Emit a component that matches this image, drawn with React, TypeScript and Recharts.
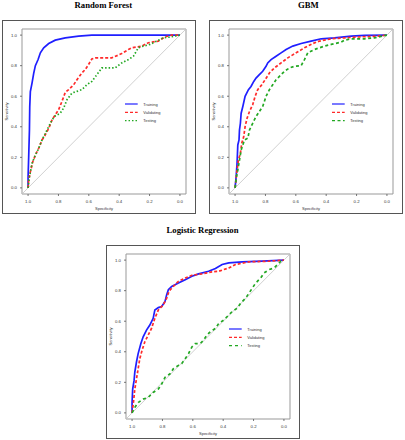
import React from 'react';
import { LineChart, Line, XAxis, YAxis, ReferenceLine, ReferenceArea, Legend } from 'recharts';

// each point is [specificity, sensitivity]
type Pt = [number, number];

const seriesNames = ['Training', 'Validating', 'Testing'];
const seriesColors = ['#1f1fff', '#ff2a2a', '#22a822'];
const axisTicks = [0, 0.2, 0.4, 0.6, 0.8, 1.0];

const rfTraining: Pt[] = [
  [1, 0], [1, 0.07], [0.996, 0.2], [0.991, 0.38], [0.989, 0.53], [0.985, 0.63], [0.974, 0.686],
  [0.963, 0.75], [0.952, 0.8], [0.934, 0.84], [0.919, 0.884], [0.897, 0.917], [0.864, 0.945],
  [0.821, 0.967], [0.755, 0.982], [0.667, 0.993], [0.58, 1], [0, 1],
];
const rfValidating: Pt[] = [
  [1, 0], [0.996, 0.05], [0.985, 0.105], [0.969, 0.171], [0.952, 0.215], [0.93, 0.259], [0.908, 0.314],
  [0.891, 0.34], [0.864, 0.39], [0.842, 0.445], [0.821, 0.478], [0.799, 0.511], [0.777, 0.566],
  [0.755, 0.625], [0.733, 0.643], [0.7, 0.675], [0.678, 0.708], [0.646, 0.752], [0.624, 0.774],
  [0.602, 0.807], [0.58, 0.844], [0.558, 0.851], [0.449, 0.851], [0.383, 0.879], [0.339, 0.906],
  [0.317, 0.917], [0.252, 0.928], [0.208, 0.95], [0.142, 0.961], [0.098, 0.989], [0.055, 1], [0, 1],
];
const rfTesting: Pt[] = [
  [1, 0], [0.991, 0.072], [0.974, 0.16], [0.952, 0.215], [0.93, 0.259], [0.908, 0.314], [0.875, 0.379],
  [0.842, 0.445], [0.821, 0.471], [0.788, 0.489], [0.766, 0.522], [0.744, 0.577], [0.711, 0.621],
  [0.678, 0.632], [0.646, 0.643], [0.613, 0.675], [0.58, 0.697], [0.547, 0.741], [0.514, 0.785],
  [0.427, 0.785], [0.383, 0.818], [0.339, 0.84], [0.306, 0.862], [0.274, 0.917], [0.241, 0.928],
  [0.197, 0.939], [0.153, 0.961], [0.109, 0.982], [0.055, 0.989], [0, 1],
];

const gbmTraining: Pt[] = [
  [1, 0], [0.993, 0.072], [0.987, 0.16], [0.982, 0.281], [0.974, 0.314], [0.971, 0.379], [0.965, 0.423],
  [0.96, 0.489], [0.949, 0.533], [0.934, 0.599], [0.912, 0.643], [0.895, 0.664], [0.877, 0.697],
  [0.862, 0.719], [0.84, 0.741], [0.818, 0.763], [0.796, 0.796], [0.785, 0.818], [0.763, 0.84],
  [0.73, 0.862], [0.697, 0.884], [0.664, 0.906], [0.62, 0.928], [0.565, 0.945], [0.499, 0.961],
  [0.433, 0.976], [0.345, 0.982], [0.235, 0.993], [0.147, 0.998], [0, 1],
];
const gbmValidating: Pt[] = [
  [1, 0], [0.993, 0.061], [0.987, 0.116], [0.978, 0.182], [0.965, 0.226], [0.956, 0.292], [0.943, 0.336],
  [0.934, 0.401], [0.921, 0.456], [0.905, 0.5], [0.884, 0.544], [0.868, 0.599], [0.851, 0.643],
  [0.824, 0.675], [0.802, 0.708], [0.774, 0.752], [0.741, 0.785], [0.697, 0.818], [0.653, 0.851],
  [0.598, 0.884], [0.543, 0.917], [0.488, 0.945], [0.444, 0.961], [0.367, 0.976], [0.279, 0.982],
  [0.169, 0.989], [0.059, 0.993], [0, 1],
];
const gbmTesting: Pt[] = [
  [1, 0], [0.991, 0.072], [0.982, 0.116], [0.971, 0.182], [0.96, 0.248], [0.949, 0.281], [0.938, 0.314],
  [0.916, 0.325], [0.905, 0.379], [0.884, 0.423], [0.862, 0.467], [0.84, 0.5], [0.818, 0.533],
  [0.796, 0.599], [0.774, 0.643], [0.752, 0.675], [0.73, 0.708], [0.708, 0.73], [0.675, 0.763],
  [0.642, 0.785], [0.609, 0.796], [0.565, 0.8], [0.543, 0.84], [0.521, 0.884], [0.477, 0.906],
  [0.411, 0.928], [0.367, 0.939], [0.301, 0.954], [0.279, 0.967], [0.235, 0.976], [0.147, 0.976],
  [0.081, 0.982], [0, 1],
];

const lrTraining: Pt[] = [
  [1, 0], [1, 0.068], [0.996, 0.156], [0.987, 0.211], [0.982, 0.267], [0.971, 0.333], [0.96, 0.388],
  [0.942, 0.454], [0.927, 0.498], [0.905, 0.542], [0.883, 0.575], [0.861, 0.619], [0.85, 0.674],
  [0.827, 0.689], [0.805, 0.696], [0.783, 0.729], [0.772, 0.773], [0.761, 0.806], [0.739, 0.828],
  [0.695, 0.85], [0.65, 0.872], [0.606, 0.894], [0.562, 0.91], [0.496, 0.927], [0.451, 0.945],
  [0.407, 0.971], [0.363, 0.982], [0.274, 0.989], [0.142, 0.993], [0, 1],
];
const lrValidating: Pt[] = [
  [1, 0], [0.991, 0.068], [0.982, 0.156], [0.971, 0.222], [0.96, 0.289], [0.949, 0.355], [0.934, 0.41],
  [0.916, 0.465], [0.894, 0.509], [0.872, 0.553], [0.85, 0.619], [0.827, 0.674], [0.794, 0.707],
  [0.772, 0.751], [0.757, 0.795], [0.739, 0.817], [0.695, 0.861], [0.65, 0.883], [0.606, 0.901],
  [0.54, 0.91], [0.473, 0.923], [0.429, 0.927], [0.363, 0.949], [0.319, 0.971], [0.23, 0.989],
  [0.097, 0.993], [0, 1],
];
const lrTesting: Pt[] = [
  [1, 0], [0.982, 0.035], [0.96, 0.068], [0.927, 0.09], [0.894, 0.101], [0.861, 0.134], [0.827, 0.156],
  [0.805, 0.189], [0.783, 0.233], [0.75, 0.256], [0.728, 0.289], [0.695, 0.311], [0.673, 0.322],
  [0.65, 0.355], [0.628, 0.388], [0.606, 0.432], [0.584, 0.454], [0.551, 0.454], [0.529, 0.476],
  [0.507, 0.509], [0.485, 0.531], [0.451, 0.553], [0.429, 0.586], [0.396, 0.608], [0.363, 0.641],
  [0.341, 0.663], [0.308, 0.685], [0.285, 0.718], [0.252, 0.751], [0.23, 0.784], [0.208, 0.817],
  [0.186, 0.85], [0.153, 0.883], [0.131, 0.916], [0.097, 0.938], [0.064, 0.949], [0.042, 0.971],
  [0.02, 0.993], [0, 1],
];

const SANS = '"Liberation Sans", Arial, sans-serif';
const SERIF = '"Liberation Serif", "Times New Roman", serif';
const PANEL = 194;

const LegendKey = ({ dashes }: { dashes: string[] }) => (
  <svg width={60} height={26} style={{ display: 'block' }}>
    {seriesNames.map((name, i) => (
      <g key={name}>
        <line
          x1={1}
          x2={13.7}
          y1={3 + i * 8.3}
          y2={3 + i * 8.3}
          stroke={seriesColors[i]}
          strokeWidth={1.2}
          strokeDasharray={dashes[i] || undefined}
        />
        <text x={19.3} y={3 + i * 8.3} dominantBaseline="central" fontSize={4} fontFamily={SANS} fill="#333">
          {name}
        </text>
      </g>
    ))}
  </svg>
);

const SensLabel = (props: any) => {
  const vb = props.viewBox || { x: 0, y: 9, width: 20, height: 165 };
  const cx = vb.x + 4;
  const cy = vb.y + vb.height / 2;
  return (
    <text
      x={cx}
      y={cy}
      transform={`rotate(-90, ${cx}, ${cy})`}
      textAnchor="middle"
      dominantBaseline="central"
      fontSize={4}
      fontFamily={SANS}
      fill="#333"
    >
      Sensitivity
    </text>
  );
};

interface PanelProps {
  title: string;
  titleX: number;
  left: number;
  top: number;
  curves: Pt[][];
  testDash: string;
}

const RocPanel = ({ title, titleX, left, top, curves, testDash }: PanelProps) => {
  const dashes = ['', '3 2', testDash];
  const tickStyle = { fontSize: 4.3, fill: '#333', fontFamily: SANS };
  return (
    <>
      <div
        style={{
          position: 'absolute',
          left: titleX - 80,
          width: 160,
          top: top - 19,
          textAlign: 'center',
          fontFamily: SERIF,
          fontWeight: 'bold',
          fontSize: 8.7,
          lineHeight: '8.7px',
          color: '#000',
        }}
      >
        {title}
      </div>
      <div
        style={{
          position: 'absolute',
          left,
          top,
          width: PANEL,
          height: PANEL,
          border: '1.5px solid #555',
          boxSizing: 'border-box',
        }}
      />
      <div style={{ position: 'absolute', left, top }}>
        <LineChart width={PANEL} height={PANEL} margin={{ top: 9, right: 10, left: 0, bottom: 0 }}>
          <XAxis
            type="number"
            dataKey="spec"
            domain={[-0.04, 1.04]}
            reversed
            allowDataOverflow
            ticks={axisTicks}
            interval={0}
            tickFormatter={(v: number) => v.toFixed(1)}
            axisLine={false}
            tickSize={2}
            tickMargin={3.5}
            height={20}
            tick={tickStyle}
            tickLine={{ stroke: '#555', strokeWidth: 0.8 }}
            label={{ value: 'Specificity', position: 'insideBottom', offset: 4, fontSize: 4, fill: '#333', fontFamily: SANS }}
          />
          <YAxis
            type="number"
            domain={[-0.04, 1.04]}
            allowDataOverflow
            ticks={axisTicks}
            interval={0}
            tickFormatter={(v: number) => v.toFixed(1)}
            axisLine={false}
            tickSize={2}
            tickMargin={3}
            width={20}
            tick={tickStyle}
            tickLine={{ stroke: '#555', strokeWidth: 0.8 }}
            label={<SensLabel />}
          />
          <ReferenceArea
            x1={-0.04}
            x2={1.04}
            y1={-0.04}
            y2={1.04}
            fill="none"
            stroke="#999"
            strokeWidth={1}
            ifOverflow="visible"
          />
          <ReferenceLine
            segment={[{ x: 1.04, y: -0.04 }, { x: -0.04, y: 1.04 }]}
            stroke="#c4c4c4"
            strokeWidth={0.8}
            ifOverflow="visible"
          />
          {curves.map((pts, i) => (
            <Line
              key={seriesNames[i]}
              name={seriesNames[i]}
              data={pts.map(([spec, sens]) => ({ spec, sens }))}
              dataKey="sens"
              type="linear"
              stroke={seriesColors[i]}
              strokeWidth={1.7}
              strokeDasharray={dashes[i] || undefined}
              dot={false}
              activeDot={false}
              isAnimationActive={false}
            />
          ))}
          <Legend
            layout="vertical"
            align="center"
            verticalAlign="middle"
            wrapperStyle={{ left: 122, top: 80.7, width: 60, height: 26, lineHeight: 0 }}
            content={() => <LegendKey dashes={dashes} />}
          />
        </LineChart>
      </div>
    </>
  );
};

export default function App() {
  return (
    <div style={{ position: 'absolute', left: 0, top: 0, width: 405, height: 440, background: '#fff', overflow: 'hidden' }}>
      <RocPanel
        title="Random Forest"
        titleX={103.3}
        left={2}
        top={20}
        curves={[rfTraining, rfValidating, rfTesting]}
        testDash="1.5 2"
      />
      <RocPanel
        title="GBM"
        titleX={308.3}
        left={209}
        top={20}
        curves={[gbmTraining, gbmValidating, gbmTesting]}
        testDash="3 2.5"
      />
      <RocPanel
        title="Logistic Regression"
        titleX={202.5}
        left={106}
        top={245}
        curves={[lrTraining, lrValidating, lrTesting]}
        testDash="3 3"
      />
    </div>
  );
}
